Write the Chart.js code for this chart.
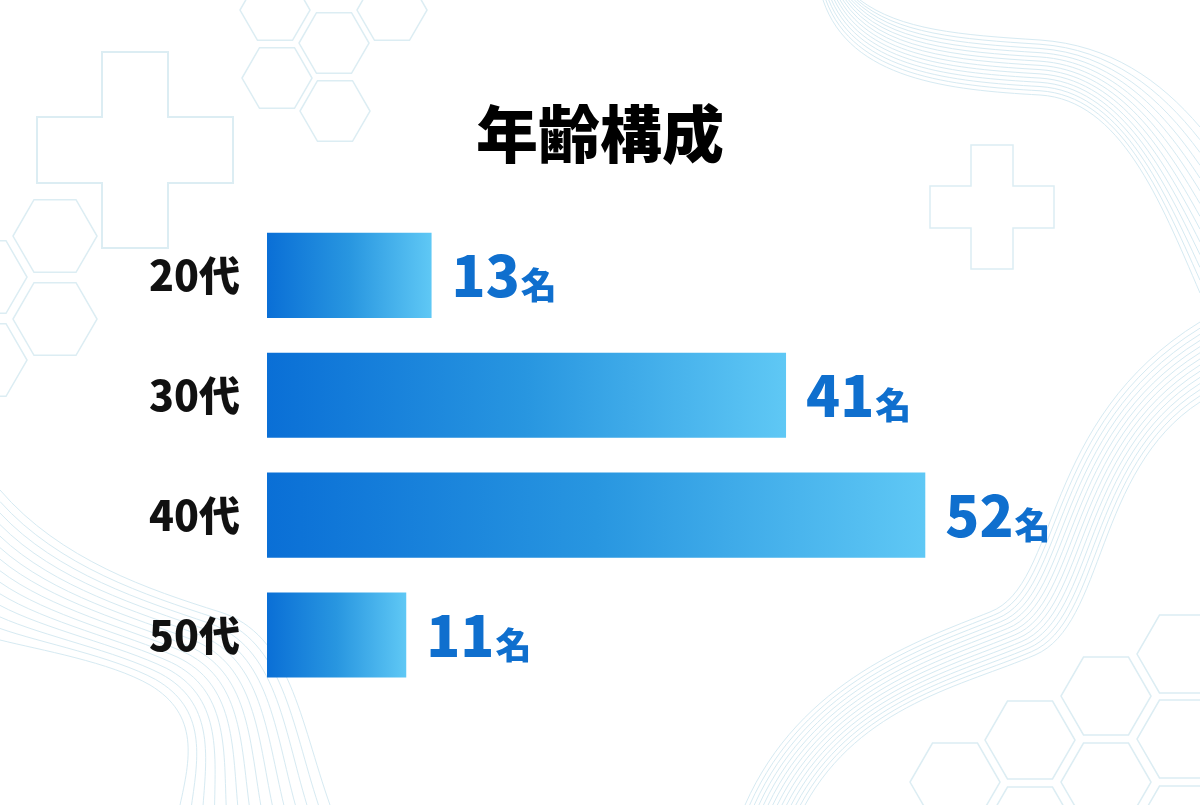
<!DOCTYPE html>
<html lang="ja">
<head>
<meta charset="utf-8">
<title>年齢構成</title>
<script src="https://cdn.jsdelivr.net/npm/chart.js@4.4.1/dist/chart.umd.min.js"></script>
<style>
  html, body { margin: 0; padding: 0; background: #ffffff; }
  #wrap { width: 1200px; height: 805px; position: relative; }
</style>
</head>
<body>
<div id="wrap"><canvas id="ageChart"></canvas></div>
<script>
// Data block
const ageLabels = ['20代', '30代', '40代', '50代'];
const ageCounts = [13, 41, 52, 11];
const countUnit = '名';
const chartTitle = '年齢構成';

const FONT = "'Noto Sans CJK JP', 'Noto Sans', sans-serif";

// Background decoration helpers
function plusOutline(ctx, cx, cy, hw, hl) {
    ctx.beginPath();
    ctx.moveTo(cx - hw, cy - hl);
    ctx.lineTo(cx + hw, cy - hl);
    ctx.lineTo(cx + hw, cy - hw);
    ctx.lineTo(cx + hl, cy - hw);
    ctx.lineTo(cx + hl, cy + hw);
    ctx.lineTo(cx + hw, cy + hw);
    ctx.lineTo(cx + hw, cy + hl);
    ctx.lineTo(cx - hw, cy + hl);
    ctx.lineTo(cx - hw, cy + hw);
    ctx.lineTo(cx - hl, cy + hw);
    ctx.lineTo(cx - hl, cy - hw);
    ctx.lineTo(cx - hw, cy - hw);
    ctx.closePath();
    ctx.stroke();
}

function hexOutline(ctx, cx, cy, r) {
    // flat-top hexagon
    ctx.beginPath();
    for (let i = 0; i < 6; i++) {
        const a = Math.PI / 3 * i;
        const px = cx + r * Math.cos(a);
        const py = cy + r * Math.sin(a);
        if (i === 0) ctx.moveTo(px, py); else ctx.lineTo(px, py);
    }
    ctx.closePath();
    ctx.stroke();
}

// n lines blended between two bezier paths [start, c1, c2, end, c1, c2, end ...]
function waveBundle(ctx, n, pathA, pathB) {
    for (let i = 0; i < n; i++) {
        const t = i / (n - 1);
        const p = pathA.map((a, k) => [a[0] + (pathB[k][0] - a[0]) * t, a[1] + (pathB[k][1] - a[1]) * t]);
        ctx.beginPath();
        ctx.moveTo(p[0][0], p[0][1]);
        for (let k = 1; k + 2 < p.length; k += 3) {
            ctx.bezierCurveTo(p[k][0], p[k][1], p[k + 1][0], p[k + 1][1], p[k + 2][0], p[k + 2][1]);
        }
        ctx.stroke();
    }
}

// Background plugin block
const backgroundDecor = {
    id: 'backgroundDecor',
    beforeDraw(chart) {
        const ctx = chart.ctx;
        ctx.save();
        ctx.fillStyle = '#ffffff';
        ctx.fillRect(0, 0, chart.width, chart.height);

        // wavy line bundles
        ctx.strokeStyle = '#d6eaf2';
        ctx.lineWidth = 1;
        waveBundle(ctx, 14,
            [[823, 0], [850, 80], [950, 90], [1040, 95], [1120, 100], [1160, 200], [1200, 293]],
            [[860, 0], [900, 30], [960, 35], [1040, 40], [1110, 45], [1160, 80], [1200, 127]]);
        waveBundle(ctx, 14,
            [[745, 805], [800, 680], [920, 640], [990, 612], [1060, 585], [1040, 420], [1200, 322]],
            [[805, 805], [860, 705], [965, 685], [1035, 655], [1105, 625], [1095, 470], [1200, 402]]);
        waveBundle(ctx, 14,
            [[0, 490], [60, 560], [150, 590], [220, 612], [290, 634], [300, 720], [330, 805]],
            [[0, 640], [40, 650], [110, 662], [150, 685], [200, 715], [190, 760], [180, 805]]);

        // plus signs
        ctx.strokeStyle = '#dcedf3';
        ctx.lineWidth = 2;
        plusOutline(ctx, 135, 150, 33, 98);
        ctx.lineWidth = 1.5;
        plusOutline(ctx, 992, 207, 21, 62);

        // hexagons
        [[275, 10], [334, 43], [277, 78], [335, 111], [392, 10]].forEach(h => hexOutline(ctx, h[0], h[1], 35));
        [[55, 236], [55, 319], [-15, 277], [-15, 360]].forEach(h => hexOutline(ctx, h[0], h[1], 42));
        [[1182, 654], [1106, 696], [1182, 739], [1030, 740], [1106, 782], [955, 782], [1030, 826], [1182, 825]]
            .forEach(h => hexOutline(ctx, h[0], h[1], 45));
        ctx.restore();
    }
};

// Value label plugin block
const countLabels = {
    id: 'countLabels',
    afterDatasetsDraw(chart) {
        const ctx = chart.ctx;
        const meta = chart.getDatasetMeta(0);
        ctx.save();
        ctx.fillStyle = '#0f6fce';
        ctx.textBaseline = 'alphabetic';
        ctx.textAlign = 'left';
        meta.data.forEach((bar, i) => {
            const x = bar.x + 20;
            const y = bar.y + 22;
            ctx.font = `900 56px ${FONT}`;
            const num = String(ageCounts[i]);
            ctx.fillText(num, x, y);
            const w = ctx.measureText(num).width;
            ctx.font = `900 36px ${FONT}`;
            ctx.fillText(countUnit, x + w + 1, y + 2);
        });
        ctx.restore();
    }
};

// Gradient per bar
function barGradient(context) {
    const chart = context.chart;
    if (!chart.chartArea) return '#2a8fe0';
    const xs = chart.scales.x;
    const x0 = xs.getPixelForValue(0);
    const x1 = xs.getPixelForValue(context.raw);
    const g = chart.ctx.createLinearGradient(x0, 0, x1, 0);
    g.addColorStop(0, '#0a6fd6');
    g.addColorStop(0.5, '#2896e0');
    g.addColorStop(1, '#5fc8f5');
    return g;
}

// Config block
const ageConfig = {
    type: 'bar',
    data: {
        labels: ageLabels,
        datasets: [{
            label: '人数',
            data: ageCounts,
            backgroundColor: barGradient,
            borderWidth: 0,
            barPercentage: 0.71,
            categoryPercentage: 1
        }]
    },
    options: {
        indexAxis: 'y',
        responsive: true,
        maintainAspectRatio: false,
        animation: false,
        layout: {
            padding: { left: 0, right: 0, top: 0, bottom: 110 }
        },
        scales: {
            x: {
                display: false,
                min: 0,
                max: 73.7
            },
            y: {
                grid: { display: false, drawTicks: false },
                border: { display: false },
                afterFit(scale) { scale.width = 267; },
                ticks: {
                    padding: 27,
                    color: '#111111',
                    font: { family: FONT, size: 41, weight: '900' }
                }
            }
        },
        plugins: {
            legend: { display: false },
            tooltip: { enabled: false },
            title: {
                display: true,
                text: chartTitle,
                color: '#000000',
                font: { family: FONT, size: 62, weight: '900', lineHeight: 1.2 },
                padding: { top: 97, bottom: 44 }
            }
        }
    },
    plugins: [backgroundDecor, countLabels]
};

// render / init block
const ageChart = new Chart(document.getElementById('ageChart'), ageConfig);
</script>
</body>
</html>
